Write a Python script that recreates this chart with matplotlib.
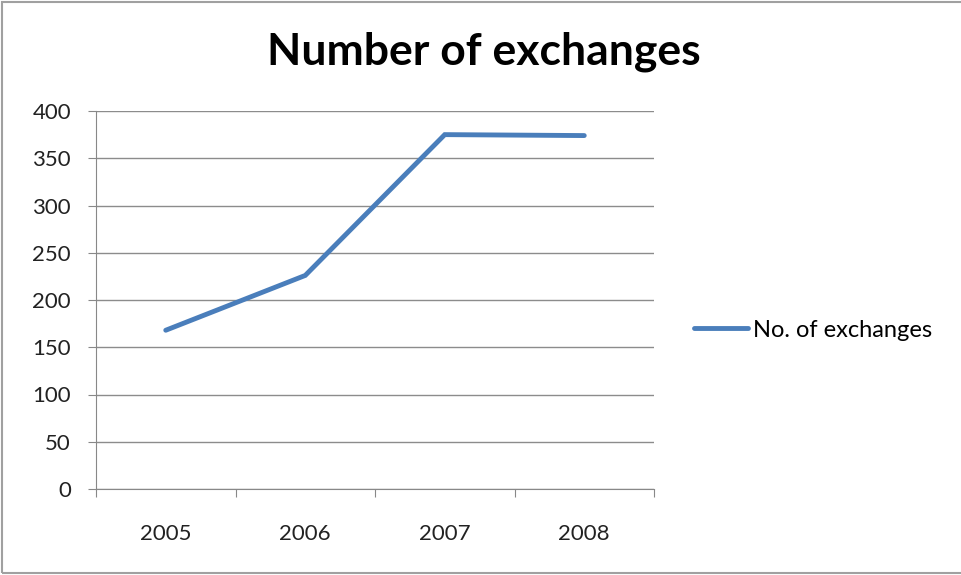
import matplotlib
matplotlib.use("Agg")
import matplotlib.pyplot as plt
from matplotlib.patches import Rectangle

years = ["2005", "2006", "2007", "2008"]
exchanges = [168, 226, 375, 374]

plt.rcParams['font.family'] = ['Lato', 'DejaVu Sans']

fig = plt.figure(figsize=(9.62, 5.75), dpi=100)
ax = fig.add_axes([96 / 962, 1 - 489 / 575, 558 / 962, 378 / 575])

x = range(len(years))
ax.plot(x, exchanges, color='#4a7ebb', lw=3.5, solid_capstyle='round',
        solid_joinstyle='miter', label='No. of exchanges')

ax.set_xlim(-0.5, 3.5)
ax.set_ylim(0, 400)
ax.set_yticks(range(0, 401, 50))
ax.set_xticks([-0.5, 0.5, 1.5, 2.5, 3.5])
ax.set_xticklabels([])
ax.set_xticks(list(x), minor=True)
ax.set_xticklabels(years, minor=True)
ax.tick_params(axis='x', which='minor', length=0, pad=25, labelsize=16, colors='#222222')
ax.tick_params(axis='x', which='major', length=6, color='#888888', direction='out')
ax.tick_params(axis='y', length=6, direction='out', labelsize=16,
               labelcolor='#222222', color='#888888', pad=12)
ax.grid(axis='y', color='#8c8c8c', lw=1)
ax.set_axisbelow(True)
for s in ['top', 'right']:
    ax.spines[s].set_visible(False)
for s in ['left', 'bottom']:
    ax.spines[s].set_color('#888888')

fig.text(484 / 962, 1 - 65 / 575, 'Number of exchanges', ha='center', va='baseline',
         fontsize=32, fontweight='bold', color='black')

ax.legend(loc='center left', bbox_to_anchor=(1.055, 0.42), frameon=False,
          fontsize=17, handlelength=2.3, handletextpad=0.2, borderaxespad=0)

fig.patches.append(Rectangle((0.002, 0.004), 1.2, 0.993, transform=fig.transFigure,
                             fill=False, edgecolor='#a0a0a0', lw=1.5))

fig.savefig('out.png', dpi=100)
